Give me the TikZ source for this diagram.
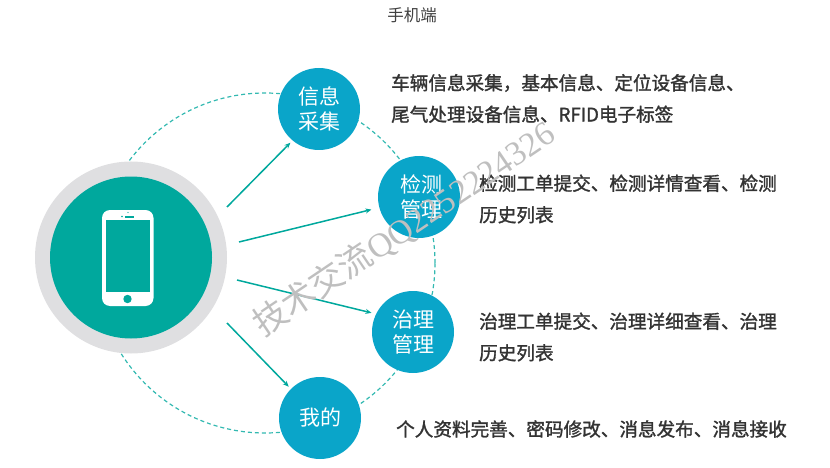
\documentclass[tikz,border=0pt]{standalone}
\usepackage{fontspec}
\setmainfont{Noto Sans CJK SC}
\newfontfamily\descfont[FakeBold=1.5]{Noto Sans CJK SC}
\newfontfamily\markfont{Liberation Serif}
\definecolor{hubteal}{HTML}{00A89D}
\definecolor{hubgray}{HTML}{DFDFE1}
\definecolor{topicblue}{HTML}{0AA5C9}
\definecolor{desctext}{HTML}{333333}
\tikzset{
	topic/.style={circle,fill=topicblue,minimum size=82pt,inner sep=0pt,text=white,align=center,font=\fontsize{21}{25}\selectfont},
	desc/.style={anchor=west,align=left,text=desctext,inner sep=0pt,font=\descfont\fontsize{18.6}{31.5}\selectfont},
	flow/.style={-{Stealth[length=6pt,width=5pt]},draw=hubteal,line width=1.5pt},
}
\usetikzlibrary{arrows.meta}
\begin{document}
\begin{tikzpicture}[x=1pt,y=-1pt]
	\useasboundingbox (0,0) rectangle (830,468);
	\draw[hubteal!80!white,line width=1.2pt,dash pattern=on 4pt off 3pt] (265,263) circle (170pt);
	\node[circle,fill=hubgray,minimum size=192pt,inner sep=0pt] (hubring) at (131,257.5) {};
	\node[circle,fill=hubteal,minimum size=162pt,inner sep=0pt] (hub) at (131,257.5) {};
	% phone
	\fill[white,rounded corners=8pt] (102,210) rectangle (153.5,306);
	\fill[hubteal] (106,220) rectangle (149.5,292);
	\fill[hubteal] (127.5,299) circle (4.2pt);
	\fill[hubteal] (125,215.5) rectangle (133.5,217.5);
	\fill[hubteal] (122,216.5) circle (0.8pt);
	\fill[hubteal] (128,212.5) circle (0.7pt);
	\node[text=black!75] (title) at (412,15) {\fontsize{16.5}{18}\selectfont 手机端};
	\node[topic] (info) at (319,109) {信息\\采集};
	\node[topic] (check) at (419,197) {\hspace*{4pt}检测\\\hspace*{4pt}管理};
	\node[topic] (treat) at (413,332) {治理\\管理};
	\node[topic] (mine) at (320,418) {我的};
	\coordinate (infostart) at (227,207);
	\coordinate (checkstart) at (239,242);
	\coordinate (treatstart) at (237,280);
	\coordinate (minestart) at (227,323);
	\draw[flow,shorten >=3pt] (infostart) to (info.230.5);
	\draw[flow,shorten >=8pt] (checkstart) to (check.195.5);
	\draw[flow,shorten >=4.6pt] (treatstart) to (treat.154);
	\draw[flow,shorten >=3pt] (minestart) to (mine.135);
	\node[desc] (infotext) at (391,98.5) {车辆信息采集，基本信息、定位设备信息、\\尾气处理设备信息、RFID电子标签};
	\node[desc] (checktext) at (479,199) {检测工单提交、检测详情查看、检测\\历史列表};
	\node[desc] (treattext) at (479,337) {治理工单提交、治理详细查看、治理\\历史列表};
	\node[desc] (minetext) at (396,429) {个人资料完善、密码修改、消息发布、消息接收};
	\node[rotate=34,text=black!25,font=\fontsize{34}{36}\selectfont] (mark) at (404,229) {技术交流{\markfont QQ2252224326}};
\end{tikzpicture}
\end{document}
